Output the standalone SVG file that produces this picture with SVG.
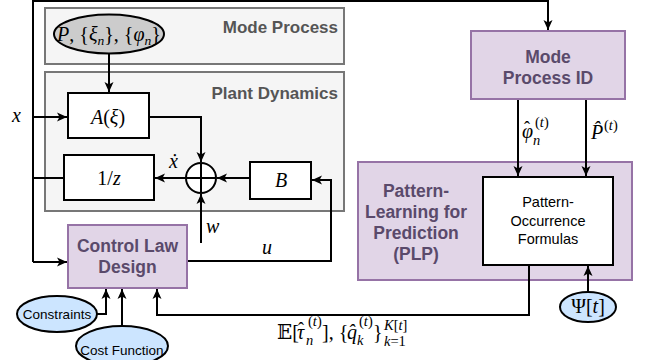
<svg xmlns="http://www.w3.org/2000/svg" width="652" height="360" viewBox="0 0 652 360">
  <defs>
    <marker id="arr" viewBox="0 0 10 10" refX="10" refY="5" markerWidth="10" markerHeight="10" markerUnits="userSpaceOnUse" orient="auto">
      <path d="M0,0.5 L10,5 L0,9.5 L2.5,5 z" fill="#000"/>
    </marker>
  </defs>
  <style>
    .gbox { fill: #f5f5f5; stroke: #777; stroke-width: 2; }
    .gtitle { font-family: "Liberation Sans", Arial, sans-serif; font-weight: bold; font-size: 17px; fill: #555; text-anchor: end; }
    .pbox { fill: #e1d5e7; stroke: #9673a6; stroke-width: 2; }
    .ptext { font-family: "Liberation Sans", Arial, sans-serif; font-weight: bold; font-size: 17.5px; fill: #5a4a6b; text-anchor: middle; }
    .wbox { fill: #fff; stroke: #000; stroke-width: 2; }
    .btext { font-family: "Liberation Sans", Arial, sans-serif; font-size: 14.5px; fill: #000; text-anchor: middle; }
    .otext { font-family: "Liberation Sans", Arial, sans-serif; font-size: 13.5px; fill: #000; text-anchor: middle; }
    .bell { fill: #cce5ff; stroke: #000; stroke-width: 2; }
    .math { font-family: "Liberation Serif", "DejaVu Serif", serif; font-size: 20px; fill: #000; }
    .it { font-style: italic; }
    .sm { font-size: 14.5px; }
    .hat { font-size: 18px; font-style: normal; }
    .conn path { fill: none; stroke: #000; stroke-width: 2; }
  </style>

  <!-- subsystem frames -->
  <g id="mode-process">
    <rect class="gbox" x="45" y="8" width="299" height="56"/>
    <text class="gtitle" x="338" y="33">Mode Process</text>
  </g>
  <g id="plant-dynamics">
    <rect class="gbox" x="45" y="72" width="299" height="139"/>
    <text class="gtitle" x="338" y="99">Plant Dynamics</text>
  </g>

  <g id="plp">
    <rect class="pbox" x="358" y="162" width="274" height="118"/>
    <text class="ptext" x="416" y="197">Pattern-</text>
    <text class="ptext" x="416" y="218">Learning for</text>
    <text class="ptext" x="416" y="239">Prediction</text>
    <text class="ptext" x="416" y="260">(PLP)</text>
  </g>

  <!-- connectors -->
  <g class="conn">
    <path d="M33,262 L33,1 L548,1 L548,30" marker-end="url(#arr)"/>
    <path d="M33,262 L67,262" marker-end="url(#arr)"/>
    <path d="M33,117 L67,117" marker-end="url(#arr)"/>
    <path d="M64,178 L33,178"/>
    <path d="M109,54 L109,92" marker-end="url(#arr)"/>
    <path d="M150,117 L201,117 L201,162" marker-end="url(#arr)"/>
    <path d="M186,178 L155,178" marker-end="url(#arr)"/>
    <path d="M250,178 L217,178" marker-end="url(#arr)"/>
    <path d="M201,243 L201,194" marker-end="url(#arr)"/>
    <path d="M188,261 L331,261 L331,180 L312,180" marker-end="url(#arr)"/>
    <path d="M518,99 L518,176" marker-end="url(#arr)"/>
    <path d="M586,99 L586,176" marker-end="url(#arr)"/>
    <path d="M529,265 L529,315 L157,315 L157,289" marker-end="url(#arr)"/>
    <path d="M588,292 L588,266" marker-end="url(#arr)"/>
    <path d="M97,314 L106,314 L106,289" marker-end="url(#arr)"/>
    <path d="M122,326 L122,289" marker-end="url(#arr)"/>
  </g>

  <g id="mode-params">
    <ellipse cx="109" cy="34" rx="55" ry="19.5" fill="#cccccc" stroke="#000" stroke-width="2"/>
    <text class="math" x="109" y="41" text-anchor="middle" font-size="19.5"><tspan class="it">P</tspan>, {<tspan class="it">ξ</tspan><tspan class="it" font-size="13.5" dy="4">n</tspan><tspan dy="-4">}, {</tspan><tspan class="it">φ</tspan><tspan class="it" font-size="13.5" dy="4">n</tspan><tspan dy="-4">}</tspan></text>
  </g>

  <g id="a-block">
    <rect class="wbox" x="68" y="93" width="81" height="45"/>
    <text class="math" x="108" y="124" text-anchor="middle" font-size="21"><tspan class="it">A</tspan>(<tspan class="it">ξ</tspan>)</text>
  </g>

  <g id="delay-block">
    <rect class="wbox" x="64" y="155" width="90" height="45"/>
    <text class="math" x="109" y="185" text-anchor="middle" font-size="21">1/<tspan class="it">z</tspan></text>
  </g>

  <g id="sum">
    <circle cx="201" cy="178" r="15" fill="#fff" stroke="#000" stroke-width="2"/>
    <path d="M186,178 H216 M201,163 V193" stroke="#000" stroke-width="2"/>
  </g>

  <g id="b-block">
    <rect class="wbox" x="250" y="162" width="61" height="37"/>
    <text class="math it" x="281" y="187" text-anchor="middle" font-size="21">B</text>
  </g>

  <g id="control-law">
    <rect class="pbox" x="68" y="225" width="119" height="63"/>
    <text class="ptext" x="127.5" y="252">Control Law</text>
    <text class="ptext" x="127.5" y="273">Design</text>
  </g>

  <g id="mode-process-id">
    <rect class="pbox" x="471" y="31" width="154" height="68"/>
    <text class="ptext" x="548" y="63">Mode</text>
    <text class="ptext" x="548" y="84">Process ID</text>
  </g>

  <g id="pattern-formulas">
    <rect class="wbox" x="483" y="177" width="130" height="88"/>
    <text class="btext" x="548" y="207">Pattern-</text>
    <text class="btext" x="548" y="226">Occurrence</text>
    <text class="btext" x="548" y="244">Formulas</text>
  </g>

  <g id="constraints">
    <ellipse class="bell" cx="57" cy="314" rx="40" ry="18"/>
    <text class="otext" x="57" y="319">Constraints</text>
  </g>

  <g id="cost-function">
    <ellipse class="bell" cx="122" cy="346" rx="46" ry="20"/>
    <text class="otext" x="122" y="355">Cost Function</text>
  </g>

  <g id="psi">
    <ellipse class="bell" cx="588" cy="307" rx="28" ry="15"/>
    <text class="math" x="588" y="313" text-anchor="middle" font-size="19">Ψ[<tspan class="it">t</tspan>]</text>
  </g>

  <!-- signal labels -->
  <g id="labels">
    <text class="math it" x="12" y="122">x</text>
    <text class="math it" x="169" y="168">ẋ</text>
    <text class="math it" x="206" y="233">w</text>
    <text class="math it" x="262" y="254">u</text>

    <!-- estimated phase -->
    <text class="math it"><tspan x="522" y="138">φ</tspan><tspan class="hat" x="524" y="134">ˆ</tspan><tspan class="sm" x="533" y="145">n</tspan><tspan class="sm" font-style="normal" x="535" y="127">(</tspan><tspan class="sm">t</tspan><tspan class="sm" font-style="normal">)</tspan></text>

    <!-- estimated transition matrix -->
    <text class="math it"><tspan x="591" y="139">P̂</tspan><tspan class="sm" font-style="normal" x="604" y="130">(</tspan><tspan class="sm">t</tspan><tspan class="sm" font-style="normal">)</tspan></text>

    <!-- prediction outputs -->
    <text class="math"><tspan x="277" y="339">𝔼[</tspan><tspan class="it" x="297" y="339">τ</tspan><tspan class="hat" x="298" y="335">ˆ</tspan><tspan class="it sm" x="306" y="345">n</tspan><tspan class="sm" x="308" y="326">(</tspan><tspan class="it sm">t</tspan><tspan class="sm">)</tspan><tspan x="322" y="339">], {</tspan><tspan class="it" x="347" y="339">q̂</tspan><tspan class="it sm" x="357" y="345">k</tspan><tspan class="sm" x="359" y="326">(</tspan><tspan class="it sm">t</tspan><tspan class="sm">)</tspan><tspan x="373" y="339">}</tspan><tspan class="it sm" x="384" y="330">K</tspan><tspan class="sm">[</tspan><tspan class="it sm">t</tspan><tspan class="sm">]</tspan><tspan class="it sm" x="384" y="346">k</tspan><tspan class="sm">=1</tspan></text>
  </g>
</svg>
